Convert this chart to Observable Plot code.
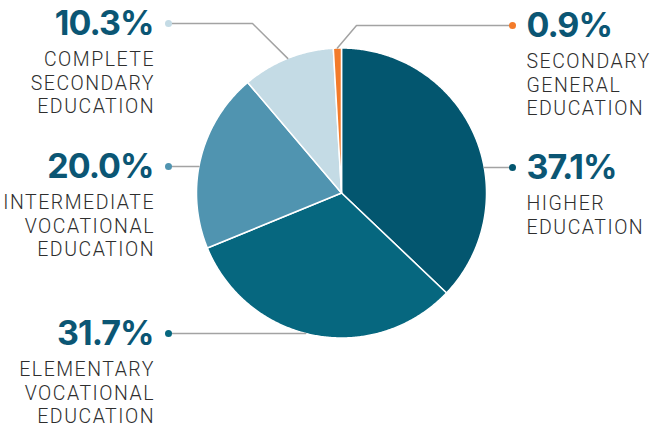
<!DOCTYPE html>
<html><head><meta charset="utf-8">
<script src="https://cdn.jsdelivr.net/npm/d3@7"></script>
<script src="https://cdn.jsdelivr.net/npm/@observablehq/plot@0.6"></script>
<style>
html,body{margin:0;padding:0;background:#fff;}
</style></head><body><div id="chart"></div>
<script>
// ---- data ----
const categories = ["Higher education","Elementary vocational education","Intermediate vocational education","Complete secondary education","Secondary general education"];
const shares = [37.1, 31.7, 20.0, 10.3, 0.9];
const valueLabels = ["37.1%","31.7%","20.0%","10.3%","0.9%"];
const labelTexts = ["HIGHER\nEDUCATION","ELEMENTARY\nVOCATIONAL\nEDUCATION","INTERMEDIATE\nVOCATIONAL\nEDUCATION","COMPLETE\nSECONDARY\nEDUCATION","SECONDARY\nGENERAL\nEDUCATION"];
const colors = ["#03566f","#06677f","#5094b0","#c4dbe5","#f37b2a"];

// ---- layout (not data) ----
const W = 654, H = 429, cx = 341, cy = 192.5, R = 145;
const leftDotX = cx - 173, rightDotX = cx + 171;
const layout = [
  {side: "right", y: 167},
  {side: "left", y: 333},
  {side: "left", y: 166},
  {side: "left", y: 23, elbow: cx - 89},
  {side: "right", y: 25, elbow: cx + 15}
];

const arcs = d3.pie().sort(null).value(d => d)(shares);
const px = a => cx + R * Math.sin(a), py = a => cy - R * Math.cos(a);

// slice polygons
const slicePts = [];
arcs.forEach((a, i) => {
  const cat = categories[i];
  slicePts.push({cat, x: cx, y: cy});
  const n = Math.max(2, Math.ceil((a.endAngle - a.startAngle) / (Math.PI / 360)));
  for (let k = 0; k <= n; k++) {
    const t = a.startAngle + (a.endAngle - a.startAngle) * k / n;
    slicePts.push({cat, x: px(t), y: py(t)});
  }
  slicePts.push({cat, x: cx, y: cy});
});

// label anchors & leaders
const labels = arcs.map((a, i) => {
  const L = layout[i];
  const dx = L.side === "left" ? leftDotX : rightDotX;
  return {cat: categories[i], side: L.side, dx, dy: L.y,
    tx: L.side === "left" ? dx - 15 : dx + 14,
    value: valueLabels[i], text: labelTexts[i], mid: (a.startAngle + a.endAngle) / 2, elbow: L.elbow};
});
const leaderPts = [];
labels.forEach(d => {
  leaderPts.push({cat: d.cat, x: d.dx, y: d.dy});
  if (d.elbow !== undefined) {
    leaderPts.push({cat: d.cat, x: d.elbow, y: d.dy});
    leaderPts.push({cat: d.cat, x: px(d.mid), y: py(d.mid)});
  } else {
    const off = Math.sqrt(R * R - (d.dy - cy) ** 2);
    leaderPts.push({cat: d.cat, x: d.side === "left" ? cx - off : cx + off, y: d.dy});
  }
});

const valueFont = {fontFamily: "Inter", fontSize: 34, fontWeight: 700, fill: "#0b5674", lineAnchor: "middle"};
const labelFont = {fontFamily: "Roboto", fontSize: 19.5, fontWeight: 300, fill: "#2e2e2e", lineAnchor: "top", lineHeight: 1.2};

const chart = Plot.plot({
  width: W, height: H,
  margin: 0,
  x: {domain: [0, W], range: [0, W], axis: null},
  y: {domain: [0, H], range: [0, H], axis: null},
  color: {domain: categories, range: colors},
  style: {background: "#fff"},
  marks: [
    Plot.line(slicePts, {x: "x", y: "y", z: "cat", fill: "cat", stroke: "white", strokeWidth: 1.5, strokeLinejoin: "round", curve: "linear"}),
    Plot.line(leaderPts, {x: "x", y: "y", z: "cat", stroke: "#a3a3a3", strokeWidth: 1.5, curve: "linear"}),
    Plot.dot(labels, {x: "dx", y: "dy", r: 3.5, fill: "cat"}),
    Plot.text(labels, {filter: d => d.side === "left", x: d => d.tx, y: d => d.dy + 1, text: "value", textAnchor: "end", ...valueFont}),
    Plot.text(labels, {filter: d => d.side === "right", x: "tx", y: d => d.dy + 1, text: "value", textAnchor: "start", ...valueFont}),
    Plot.text(labels, {filter: d => d.side === "left", x: d => d.tx + 1.5, y: d => d.dy + 26, text: "text", textAnchor: "end", ...labelFont}),
    Plot.text(labels, {filter: d => d.side === "right", x: "tx", y: d => d.dy + 26, text: "text", textAnchor: "start", ...labelFont})
  ]
});
// tracking: wide for category labels, tight for the big values
d3.select(chart).selectAll('g[font-size="19.5"]').style("letter-spacing", "1.5px");
d3.select(chart).selectAll('g[font-size="34"]').style("letter-spacing", "-1px");
document.getElementById("chart").appendChild(chart);
</script></body></html>
